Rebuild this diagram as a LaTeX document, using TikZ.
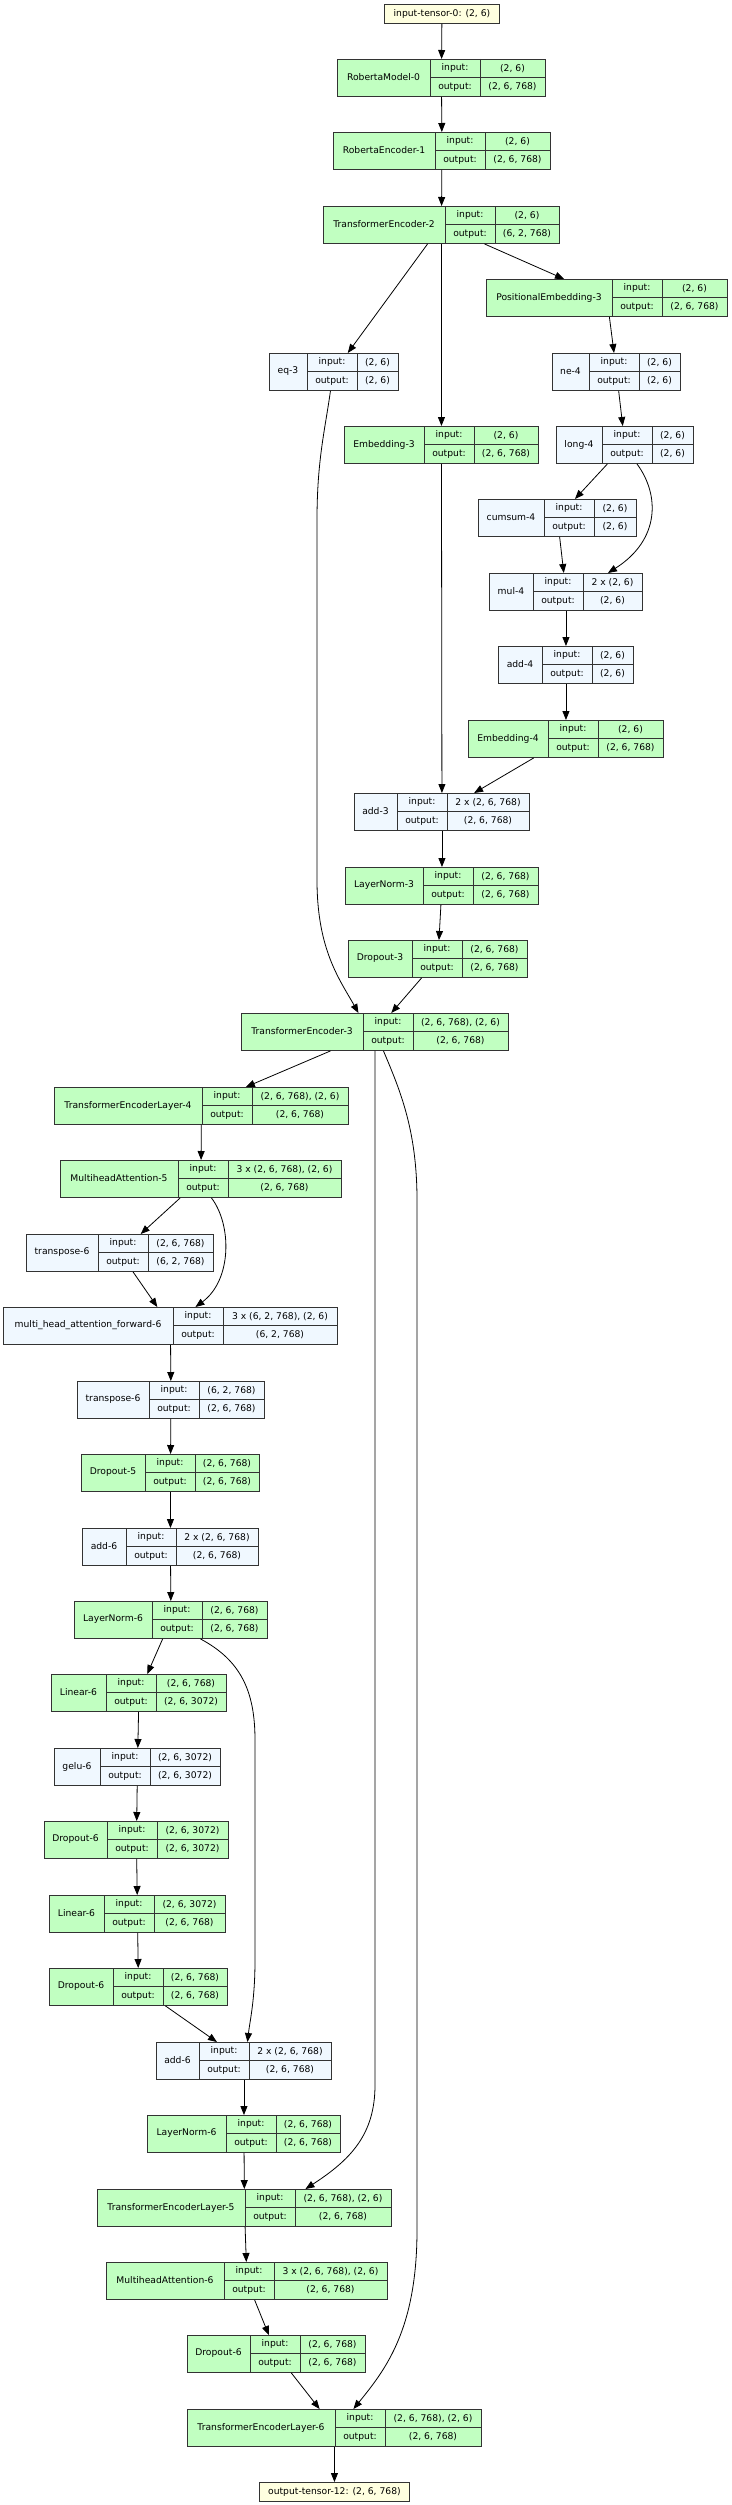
\documentclass[tikz,border=0pt]{standalone}
\usepackage{fontspec}
\setmainfont{DejaVu Sans}
\usetikzlibrary{arrows.meta}
\definecolor{modgreen}{HTML}{C1FFC1}
\definecolor{fnblue}{HTML}{F0F8FF}
\definecolor{tensoryellow}{HTML}{FFFFE0}
\tikzset{
  tvbox/.style={draw=black!80,line width=0.9pt,inner sep=0pt,minimum height=37pt,anchor=north west},
  modcell/.style={fill=modgreen},
  fncell/.style={fill=fnblue},
  tensor/.style={draw=black!80,line width=0.9pt,fill=tensoryellow,inner sep=0pt,minimum height=19pt,anchor=north west},
  cell/.style={draw=black!80,line width=0.9pt},
  txt/.style={inner sep=0pt}
}
% name, style, left, divider, right, top, label, input, output
\newcommand{\tvnode}[9]{%
  \node[tvbox,#2,minimum width={#5-#3}] (#1) at (#3,#6) {};
  \draw[cell] (#4,#6) -- ++(0,37) (#4+50,#6) -- ++(0,37) (#4,#6+18.5) -- (#5,#6+18.5);
  \node[txt] (#1-l) at ({(#3+#4)/2},#6+18.5) {#7};
  \node[txt] (#1-i) at (#4+25,#6+9.25) {input:};
  \node[txt] (#1-iv) at ({(#4+50+#5)/2},#6+9.25) {#8};
  \node[txt] (#1-o) at (#4+25,#6+27.75) {output:};
  \node[txt] (#1-ov) at ({(#4+50+#5)/2},#6+27.75) {#9};
}
\begin{document}
\begin{tikzpicture}[x=1pt,y=-1pt,line width=0.8pt,>={Triangle[length=9pt,width=7pt]},font=\fontsize{9.2pt}{11pt}\selectfont]
\useasboundingbox (0,0) rectangle (731,2505);
\node[tensor,minimum width=115pt] (in0) at (384,4) {input-tensor-0: (2, 6)};
\tvnode{rm0}{modcell}{337}{430}{545}{59}{RobertaModel-0}{(2, 6)}{(2, 6, 768)}
\tvnode{re1}{modcell}{333}{435}{550}{132}{RobertaEncoder-1}{(2, 6)}{(2, 6, 768)}
\tvnode{te2}{modcell}{323}{445}{559}{206}{TransformerEncoder-2}{(2, 6)}{(6, 2, 768)}
\tvnode{pe3}{modcell}{486}{612}{727}{279}{PositionalEmbedding-3}{(2, 6)}{(2, 6, 768)}
\tvnode{eq3}{fncell}{269}{307}{398}{353}{eq-3}{(2, 6)}{(2, 6)}
\tvnode{ne4}{fncell}{552}{589}{680}{353}{ne-4}{(2, 6)}{(2, 6)}
\tvnode{emb3}{modcell}{344}{424}{538}{426}{Embedding-3}{(2, 6)}{(2, 6, 768)}
\tvnode{long4}{fncell}{556}{602}{693}{426}{long-4}{(2, 6)}{(2, 6)}
\tvnode{cumsum4}{fncell}{478}{544}{636}{499}{cumsum-4}{(2, 6)}{(2, 6)}
\tvnode{mul4}{fncell}{489}{533}{642}{573}{mul-4}{2 x (2, 6)}{(2, 6)}
\tvnode{add4}{fncell}{498}{542}{633}{646}{add-4}{(2, 6)}{(2, 6)}
\tvnode{emb4}{modcell}{468}{548}{663}{720}{Embedding-4}{(2, 6)}{(2, 6, 768)}
\tvnode{add3}{fncell}{354}{397}{529}{793}{add-3}{2 x (2, 6, 768)}{(2, 6, 768)}
\tvnode{ln3}{modcell}{345}{423}{538}{867}{LayerNorm-3}{(2, 6, 768)}{(2, 6, 768)}
\tvnode{drop3}{modcell}{348}{412}{527}{940}{Dropout-3}{(2, 6, 768)}{(2, 6, 768)}
\tvnode{te3}{modcell}{241}{363}{508}{1013}{TransformerEncoder-3}{(2, 6, 768), (2, 6)}{(2, 6, 768)}
\tvnode{tel4}{modcell}{54}{202}{348}{1087}{TransformerEncoderLayer-4}{(2, 6, 768), (2, 6)}{(2, 6, 768)}
\tvnode{mha5}{modcell}{60}{178}{341}{1160}{MultiheadAttention-5}{3 x (2, 6, 768), (2, 6)}{(2, 6, 768)}
\tvnode{tp6a}{fncell}{26}{98}{213}{1234}{transpose-6}{(2, 6, 768)}{(6, 2, 768)}
\tvnode{mhaf6}{fncell}{3}{173}{337}{1307}{multi\_head\_attention\_forward-6}{3 x (6, 2, 768), (2, 6)}{(6, 2, 768)}
\tvnode{tp6b}{fncell}{77}{149}{264}{1381}{transpose-6}{(6, 2, 768)}{(2, 6, 768)}
\tvnode{drop5}{modcell}{81}{145}{259}{1454}{Dropout-5}{(2, 6, 768)}{(2, 6, 768)}
\tvnode{add6a}{fncell}{82}{126}{258}{1528}{add-6}{2 x (2, 6, 768)}{(2, 6, 768)}
\tvnode{ln6a}{modcell}{74}{152}{267}{1601}{LayerNorm-6}{(2, 6, 768)}{(2, 6, 768)}
\tvnode{lin6a}{modcell}{51}{106}{226}{1674}{Linear-6}{(2, 6, 768)}{(2, 6, 3072)}
\tvnode{gelu6}{fncell}{54}{100}{220}{1748}{gelu-6}{(2, 6, 3072)}{(2, 6, 3072)}
\tvnode{drop6a}{modcell}{44}{107}{228}{1821}{Dropout-6}{(2, 6, 3072)}{(2, 6, 3072)}
\tvnode{lin6b}{modcell}{49}{104}{225}{1895}{Linear-6}{(2, 6, 3072)}{(2, 6, 768)}
\tvnode{drop6b}{modcell}{49}{113}{227}{1968}{Dropout-6}{(2, 6, 768)}{(2, 6, 768)}
\tvnode{add6b}{fncell}{156}{199}{331}{2042}{add-6}{2 x (2, 6, 768)}{(2, 6, 768)}
\tvnode{ln6b}{modcell}{147}{226}{340}{2115}{LayerNorm-6}{(2, 6, 768)}{(2, 6, 768)}
\tvnode{tel5}{modcell}{97}{245}{391}{2189}{TransformerEncoderLayer-5}{(2, 6, 768), (2, 6)}{(2, 6, 768)}
\tvnode{mha6}{modcell}{106}{224}{387}{2262}{MultiheadAttention-6}{3 x (2, 6, 768), (2, 6)}{(2, 6, 768)}
\tvnode{drop6c}{modcell}{187}{250}{365}{2335}{Dropout-6}{(2, 6, 768)}{(2, 6, 768)}
\tvnode{tel6}{modcell}{187}{335}{481}{2409}{TransformerEncoderLayer-6}{(2, 6, 768), (2, 6)}{(2, 6, 768)}
\node[tensor,minimum width=150pt] (out12) at (259,2482) {output-tensor-12: (2, 6, 768)};
\draw[->] (in0) -- (rm0);
\draw[->] (rm0) -- (re1);
\draw[->] (re1) -- (te2);
\draw[->] (te2) -- (eq3);
\draw[->] (te2) -- (emb3);
\draw[->] (te2) -- (pe3);
\draw[->] (pe3) -- (ne4);
\draw[->] (ne4) -- (long4);
\draw[->] (long4) -- (cumsum4);
\draw[->] ([xshift=12pt]long4.south) .. controls (660,495) and (660,540) .. ([xshift=42pt]mul4.north);
\draw[->] (cumsum4) -- (mul4);
\draw[->] (mul4) -- (add4);
\draw[->] (add4) -- (emb4);
\draw[->] (emb4) -- (add3);
\draw[->] (emb3) -- (add3);
\draw[->] ([xshift=-3.5pt]eq3.south) .. controls (325,430) and (317,460) .. (317,520) -- (317,880) .. controls (317,950) and (340,980) .. ([xshift=-16.5pt]te3.north);
\draw[->] (add3) -- (ln3);
\draw[->] (ln3) -- (drop3);
\draw[->] (drop3) -- (te3);
\draw[->] (te3) -- (tel4);
\draw[->] (te3.south) -- (375,2085) .. controls (375,2135) and (350,2160) .. ([xshift=61pt]tel5.north);
\draw[->] ([xshift=8.5pt]te3.south) .. controls (400,1090) and (417,1130) .. (417,1200) -- (417,2230) .. controls (417,2330) and (385,2370) .. ([xshift=19pt]tel6.north);
\draw[->] (tel4) -- (mha5);
\draw[->] (mha5) -- (tp6a);
\draw[->] ([xshift=10.5pt]mha5.south) .. controls (232,1225) and (232,1280) .. ([xshift=25pt]mhaf6.north);
\draw[->] (tp6a) -- (mhaf6);
\draw[->] (mhaf6) -- (tp6b);
\draw[->] (tp6b) -- (drop5);
\draw[->] (drop5) -- (add6a);
\draw[->] (add6a) -- (ln6a);
\draw[->] (ln6a) -- (lin6a);
\draw[->] ([xshift=29.5pt]ln6a.south) .. controls (240,1660) and (255,1690) .. (255,1740) -- (255,1960) .. controls (255,2000) and (250,2020) .. ([xshift=3.5pt]add6b.north);
\draw[->] (lin6a) -- (gelu6);
\draw[->] (gelu6) -- (drop6a);
\draw[->] (drop6a) -- (lin6b);
\draw[->] (lin6b) -- (drop6b);
\draw[->] (drop6b) -- (add6b);
\draw[->] (add6b) -- (ln6b);
\draw[->] (ln6b) -- (tel5);
\draw[->] (tel5) -- (mha6);
\draw[->] (mha6) -- (drop6c);
\draw[->] (drop6c) -- (tel6);
\draw[->] (tel6) -- (out12);
\end{tikzpicture}
\end{document}
